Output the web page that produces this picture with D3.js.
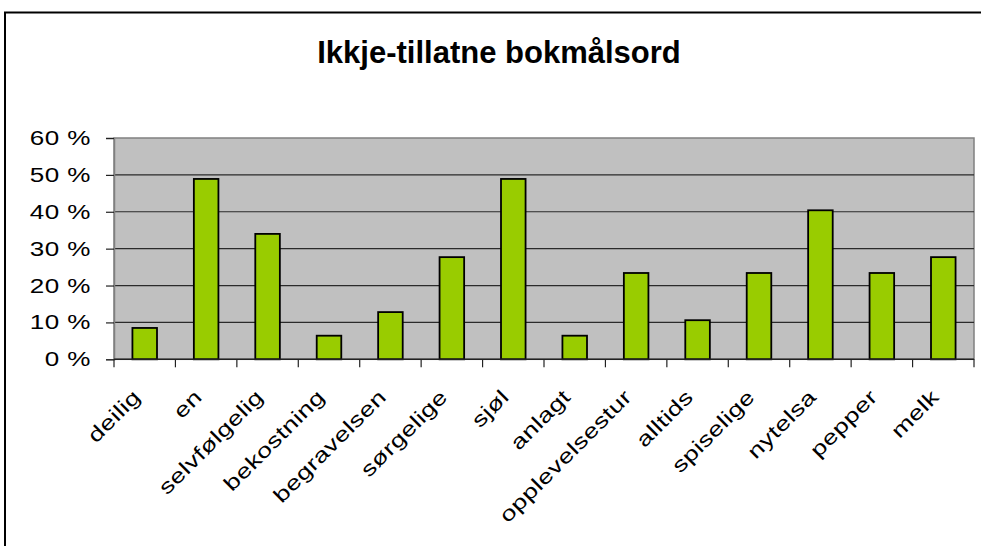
<!DOCTYPE html>
<html>
<head>
<meta charset="utf-8">
<script src="https://cdn.jsdelivr.net/npm/d3@7/dist/d3.min.js"></script>
<style>
  html, body { margin: 0; padding: 0; background: #fff; overflow: hidden; }
  svg { display: block; }
</style>
</head>
<body>
<svg id="chart" width="981" height="546"></svg>
<script>
// Share of answers using each non-permitted Bokmål word
const title = "Ikkje-tillatne bokmålsord";
const categories = ["deilig", "en", "selvfølgelig", "bekostning", "begravelsen", "sørgelige",
  "sjøl", "anlagt", "opplevelsestur", "alltids", "spiselige", "nytelsa", "pepper", "melk"];
const values = [8.5, 48.9, 34.0, 6.4, 12.8, 27.7, 48.9, 6.4, 23.4, 10.6, 23.4, 40.4, 23.4, 27.7];
const yTicks = [0, 10, 20, 30, 40, 50, 60];

const svg = d3.select("#chart");
const font = "'Liberation Sans', Arial, sans-serif";

// chart frame: top and left edges (the rest runs off the page)
svg.append("path")
  .attr("d", "M5,546V12.5H981")
  .attr("fill", "none").attr("stroke", "#000").attr("stroke-width", 2);

// title
svg.append("text")
  .attr("x", 499).attr("y", 63)
  .attr("text-anchor", "middle")
  .attr("font-family", font).attr("font-weight", "bold")
  .attr("font-size", 31)
  .text(title);

const plot = { left: 114, right: 974, top: 138, bottom: 359.3 };

const x = d3.scaleBand()
  .domain(categories)
  .range([plot.left, plot.right])
  .paddingInner(0.6).paddingOuter(0.3);
const xBoundary = d3.scaleLinear()
  .domain([0, categories.length])
  .range([plot.left, plot.right]);
const y = d3.scaleLinear().domain([0, 60]).range([plot.bottom, plot.top]);

// plot background
svg.append("rect")
  .attr("x", plot.left).attr("y", plot.top)
  .attr("width", plot.right - plot.left).attr("height", plot.bottom - plot.top)
  .attr("fill", "#c0c0c0").attr("stroke", "#808080").attr("stroke-width", 1.5);

// gridlines
svg.append("g")
  .selectAll("line")
  .data(yTicks.filter(t => t > 0 && t < 60))
  .join("line")
  .attr("x1", plot.left).attr("x2", plot.right)
  .attr("y1", d => y(d)).attr("y2", d => y(d))
  .attr("stroke", "#2a2a2a").attr("stroke-width", 1.2);

// bars
svg.append("g")
  .selectAll("rect")
  .data(values)
  .join("rect")
  .attr("x", (d, i) => x(categories[i]))
  .attr("y", d => y(d))
  .attr("width", x.bandwidth())
  .attr("height", d => y(0) - y(d))
  .attr("fill", "#99cc00")
  .attr("stroke", "#000").attr("stroke-width", 1.8);

// y axis (labels are drawn in a horizontally widened face)
const yAxis = svg.append("g")
  .attr("transform", `translate(${plot.left},0)`)
  .call(d3.axisLeft(y).tickValues(yTicks).tickSize(8).tickPadding(0)
    .tickFormat(d => d + " %"));
yAxis.select(".domain").attr("stroke", "#808080").attr("stroke-width", 1.5);
yAxis.selectAll(".tick line").attr("stroke", "#222").attr("stroke-width", 1.2);
yAxis.selectAll(".tick text")
  .attr("x", 0)
  .attr("transform", "translate(-23,0) scale(1.27,1)")
  .attr("font-family", font).attr("font-size", 20.5)
  .attr("letter-spacing", "0.4px")
  .attr("fill", "#000");

// x axis: ticks sit on category boundaries
const xAxis = svg.append("g");
xAxis.append("line")
  .attr("x1", plot.left).attr("x2", plot.right)
  .attr("y1", plot.bottom).attr("y2", plot.bottom)
  .attr("stroke", "#222").attr("stroke-width", 1.5);
xAxis.selectAll("line.tick")
  .data(d3.range(categories.length + 1))
  .join("line")
  .attr("class", "tick")
  .attr("x1", d => xBoundary(d)).attr("x2", d => xBoundary(d))
  .attr("y1", plot.bottom).attr("y2", plot.bottom + 8)
  .attr("stroke", "#222").attr("stroke-width", 1.2);

// rotated category labels
svg.append("g")
  .selectAll("text")
  .data(categories)
  .join("text")
  .attr("transform", d => `translate(${x(d) + x.bandwidth() / 2 - 3},${plot.bottom + 39}) rotate(-45) scale(1.3,1)`)
  .attr("text-anchor", "end")
  .attr("font-family", font).attr("font-size", 20.5)
  .attr("letter-spacing", "0.3px")
  .attr("fill", "#000")
  .text(d => d);
</script>
</body>
</html>
